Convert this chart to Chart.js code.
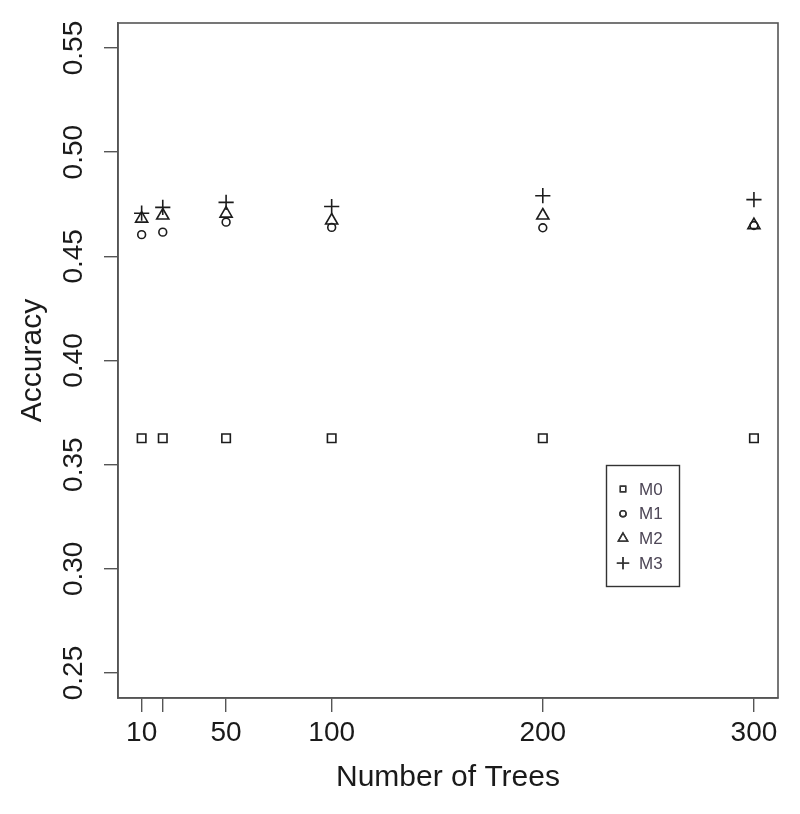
<!DOCTYPE html>
<html>
<head>
<meta charset="utf-8">
<script src="https://cdn.jsdelivr.net/npm/chart.js@4/dist/chart.umd.min.js"></script>
<style>
  html, body { margin: 0; padding: 0; background: #fff; }
  #wrap { width: 800px; height: 814px; }
</style>
</head>
<body>
<div id="wrap"><canvas id="c" width="800" height="814"></canvas></div>
<script>
// ---- data ----
const trees = [10, 20, 50, 100, 200, 300];
const seriesNames = ['M0', 'M1', 'M2', 'M3'];
const m0 = [0.3627, 0.3627, 0.3627, 0.3627, 0.3627, 0.3627];
const m1 = [0.4604, 0.4616, 0.4664, 0.4639, 0.4637, 0.4648];
const m2 = [0.4681, 0.4696, 0.4705, 0.4672, 0.4696, 0.4650];
const m3 = [0.4707, 0.4735, 0.4759, 0.4739, 0.4791, 0.4772];
const xTickValues = [10, 20, 50, 100, 200, 300];
const xTickLabels = ['10', '', '50', '100', '200', '300'];
const yTickValues = [0.25, 0.30, 0.35, 0.40, 0.45, 0.50, 0.55];
const yTickLabels = ['0.25', '0.30', '0.35', '0.40', '0.45', '0.50', '0.55'];
const xTitle = 'Number of Trees';
const yTitle = 'Accuracy';

// ---- styles ----
const FONT = '"Liberation Sans", Arial, sans-serif';
const INK = '#1a1a1a';
const AXIS = '#555555';
const styles = [
  { pointStyle: 'rect', radius: 6.0 },
  { pointStyle: 'circle', radius: 3.9 },
  { pointStyle: 'triangle', radius: 7.0 },
  { pointStyle: 'cross', radius: 7.6 }
];
const values = [m0, m1, m2, m3];

const datasets = values.map((vals, i) => ({
  label: seriesNames[i],
  data: trees.map((t, j) => ({ x: t, y: vals[j] })),
  showLine: false,
  pointStyle: styles[i].pointStyle,
  pointRadius: styles[i].radius,
  pointHoverRadius: styles[i].radius,
  pointBackgroundColor: 'rgba(0,0,0,0)',
  pointBorderColor: '#1c1c1c',
  pointBorderWidth: 1.6
}));

function drawSymbol(ctx, style, r, x, y) {
  if (Chart.helpers && Chart.helpers.drawPoint) {
    Chart.helpers.drawPoint(ctx, { pointStyle: style, radius: r, rotation: 0, borderWidth: 1.3 }, x, y);
    ctx.stroke();
  }
}

const boxAndLegend = {
  id: 'boxAndLegend',
  afterDraw(chart) {
    const { ctx, chartArea: a, scales } = chart;
    ctx.save();
    ctx.strokeStyle = AXIS;
    ctx.lineWidth = 1.6;
    ctx.strokeRect(a.left, a.top, a.right - a.left, a.bottom - a.top);

    // legend anchored at data coordinates (230, 0.35)
    const lx = Math.round(scales.x.getPixelForValue(230));
    const ly = Math.round(scales.y.getPixelForValue(0.35));
    const w = 73, h = 121;
    ctx.strokeStyle = '#333';
    ctx.lineWidth = 1.4;
    ctx.strokeRect(lx + 0.5, ly + 0.5, w, h);
    const legSizes = [3.8, 3.1, 5.4, 6.2];
    ctx.font = '17px ' + FONT;
    ctx.textBaseline = 'middle';
    ctx.textAlign = 'left';
    for (let i = 0; i < seriesNames.length; i++) {
      const cy = ly + 24 + i * 24.7;
      ctx.strokeStyle = '#333';
      ctx.fillStyle = 'rgba(0,0,0,0)';
      drawSymbol(ctx, styles[i].pointStyle, legSizes[i], lx + 17, cy);
      ctx.fillStyle = '#4d4656';
      ctx.fillText(seriesNames[i], lx + 33, cy + 1);
    }
    ctx.restore();
  }
};

new Chart(document.getElementById('c'), {
  type: 'scatter',
  data: { datasets },
  plugins: [boxAndLegend],
  options: {
    responsive: false,
    animation: false,
    events: [],
    layout: { padding: { left: 0, right: 22, top: 23, bottom: 0 } },
    plugins: { legend: { display: false }, tooltip: { enabled: false } },
    scales: {
      x: {
        type: 'linear',
        min: -1.2,
        max: 311.4,
        afterBuildTicks: s => { s.ticks = xTickValues.map(v => ({ value: v })); },
        afterFit: s => { s.height = 116; },
        grid: { display: true, drawOnChartArea: false, drawTicks: true, tickLength: 14, color: AXIS, lineWidth: 1.4 },
        border: { display: true, color: AXIS, width: 1.6 },
        ticks: {
          autoSkip: false,
          maxRotation: 0,
          padding: 4,
          color: INK,
          font: { family: FONT, size: 28 },
          callback: (v, i) => xTickLabels[i]
        },
        title: {
          display: true,
          text: xTitle,
          color: INK,
          font: { family: FONT, size: 30, lineHeight: 1.2 },
          padding: { top: 0, bottom: 18 }
        }
      },
      y: {
        type: 'linear',
        min: 0.238,
        max: 0.562,
        afterBuildTicks: s => { s.ticks = yTickValues.map(v => ({ value: v })); },
        afterFit: s => { s.width = 118; },
        grid: { display: true, drawOnChartArea: false, drawTicks: true, tickLength: 14, color: AXIS, lineWidth: 1.4 },
        border: { display: true, color: AXIS, width: 1.6 },
        ticks: {
          autoSkip: false,
          minRotation: 90,
          maxRotation: 90,
          crossAlign: 'center',
          padding: 2,
          color: INK,
          font: { family: FONT, size: 28 },
          callback: (v, i) => yTickLabels[i]
        },
        title: {
          display: true,
          text: yTitle,
          color: INK,
          font: { family: FONT, size: 30, lineHeight: 1.2 },
          padding: { top: 15, bottom: 0 }
        }
      }
    }
  }
});
</script>
</body>
</html>
